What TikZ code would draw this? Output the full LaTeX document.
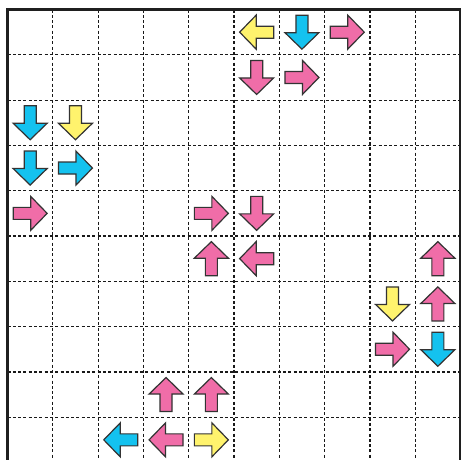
\documentclass[tikz,border=0pt]{standalone}
\begin{document}
\begin{tikzpicture}[x=1pt,y=-1pt,
  gridline/.style={draw=black!90,line width=1.2pt,dash pattern=on 3pt off 2.3pt},
  borderline/.style={draw=black!88,line width=3pt,line join=miter},
  arrowshape/.style={draw=black!80,line width=1.2pt,line join=miter},
  P/.style={arrowshape,fill=pinkc},
  B/.style={arrowshape,fill=bluec},
  Y/.style={arrowshape,fill=yellowc}]
\definecolor{pinkc}{HTML}{F06DA8}
\definecolor{bluec}{HTML}{14C2EF}
\definecolor{yellowc}{HTML}{FFF36D}
\useasboundingbox (0,0) rectangle (461,459);
\fill[white] (0,0) rectangle (461,459);
% grid
\foreach \k in {1,...,9}{
  \draw[gridline] ({7.5+45.3*\k},9.5) -- ({7.5+45.3*\k},462);
  \draw[gridline] (7.5,{9.5+45.3*\k}) -- (460.5,{9.5+45.3*\k});
}
\draw[borderline] (7.5,470) -- (7.5,9.5) -- (460.5,9.5) -- (460.5,470);
% arrows: col, row, angle, style
\foreach \c/\r/\a/\s in {
  5/0/180/Y, 6/0/-90/B, 7/0/0/P,
  5/1/-90/P, 6/1/0/P,
  0/2/-90/B, 1/2/-90/Y,
  0/3/-90/B, 1/3/0/B,
  0/4/0/P, 4/4/0/P, 5/4/-90/P,
  4/5/90/P, 5/5/180/P, 9/5/90/P,
  8/6/-90/Y, 9/6/90/P,
  8/7/0/P, 9/7/-90/B,
  3/8/90/P, 4/8/90/P,
  2/9/180/B, 3/9/180/P, 4/9/0/Y}{
  \path[\s,shift={({7.5+45.3*(\c+0.5)},{9.5+45.3*(\r+0.5)})},rotate=\a]
    (-17,-6) -- (0.5,-6) -- (0.5,-17) -- (17,0) -- (0.5,17) -- (0.5,6) -- (-17,6) -- cycle;
}
\end{tikzpicture}
\end{document}
